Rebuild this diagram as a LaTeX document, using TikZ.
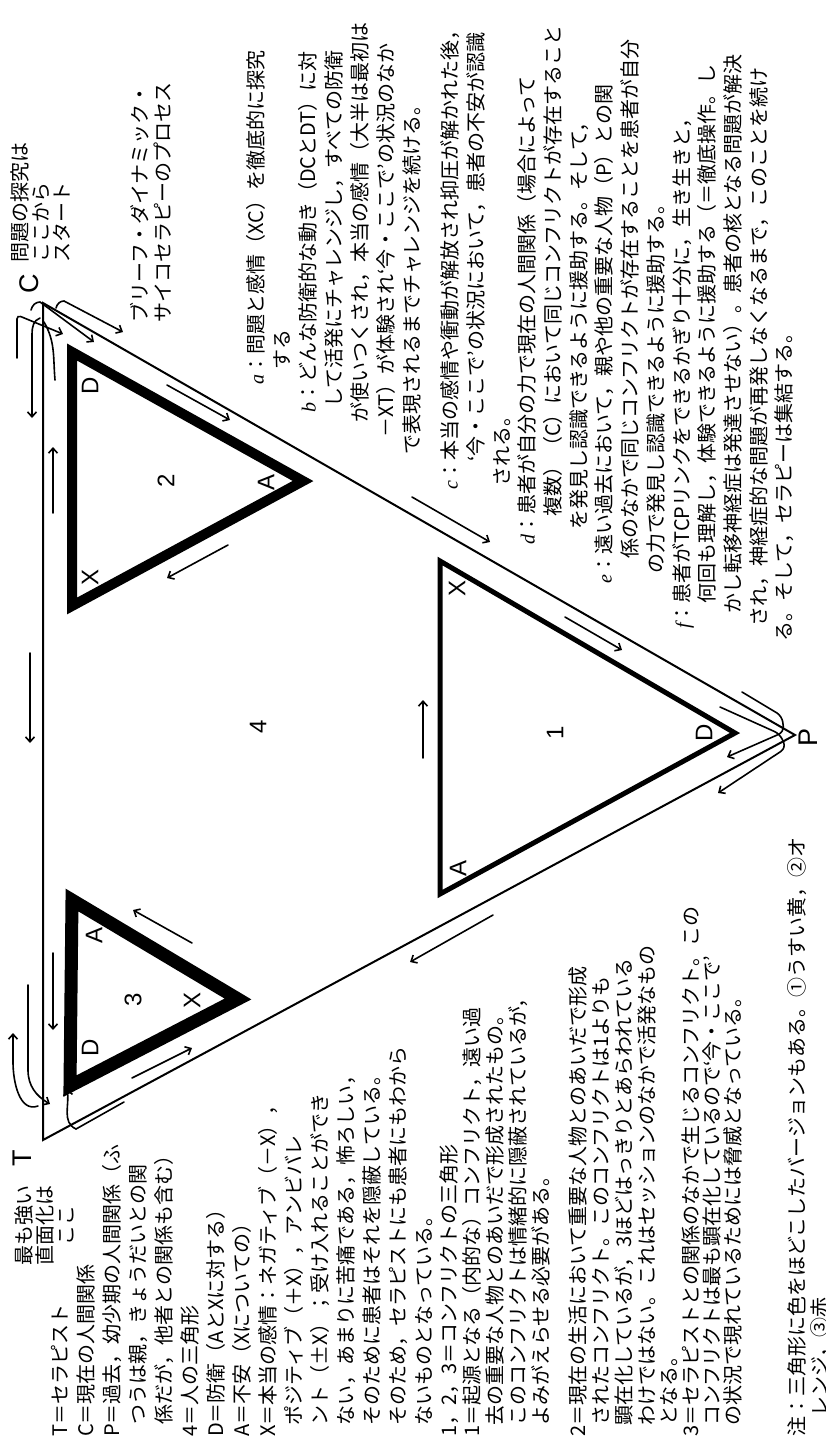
\documentclass[tikz,border=0pt]{standalone}
\usepackage{fontspec}
\newfontfamily\jp{Noto Sans CJK JP}
\newfontfamily\lsans{Liberation Sans}
\newfontfamily\itf{Liberation Serif}
\usetikzlibrary{arrows.meta}
\newcommand\jl[4]{\node[tl] (#1) at (#2,#3) {#4};}
\newcommand\lab[1]{{\itf\itshape #1}}
\begin{document}
\begin{tikzpicture}[x=1pt,y=-1pt,
  tl/.style={rotate=90,anchor=west,inner sep=0pt,font=\jp\fontsize{20}{24}\selectfont,text height=17.6pt,text depth=2.4pt},
  tc/.style={tl,anchor=center},
  tri/.style={rotate=90,inner sep=0pt,font=\lsans\fontsize{24}{24}\selectfont},
  big/.style={rotate=90,inner sep=0pt,font=\lsans\fontsize{27}{27}\selectfont},
  arr/.style={line width=1.6pt,line cap=round,-{Straight Barb[length=5pt,width=9pt]}},
  hand/.style={line width=1.6pt,line cap=round},
  outer/.style={line width=2pt,line join=miter},
  thick/.style={line join=miter}]
\fill[white] (0,0) rectangle (826,1444);
\useasboundingbox (0,0) rectangle (826,1444);

% outer triangle
\coordinate (T) at (43,1140);
\coordinate (C) at (43,303);
\coordinate (P) at (795,735);
\draw[outer] (T) -- (C) -- (P) -- cycle;

% triangle 2 (near C)
\coordinate (D2) at (72,352);
\coordinate (X2) at (72,606);
\coordinate (A2) at (303,481);
\draw[thick,line width=10pt] (D2) -- (X2) -- (A2) -- cycle;
% triangle 3 (near T)
\coordinate (A3) at (72,900);
\coordinate (D3) at (70,1086);
\coordinate (X3) at (238,999);
\draw[thick,line width=13pt] (A3) -- (D3) -- (X3) -- cycle;
% triangle 1 (near P)
\coordinate (X1) at (440,561);
\coordinate (A1) at (440,894);
\coordinate (D1) at (735,733);
\draw[thick,line width=5pt] (X1) -- (A1) -- (D1) -- cycle;

% triangle labels
\node[tri] (lD2) at (90,386) {D};
\node[tri] (lX2) at (90,577) {X};
\node[tri] (lA2) at (266,482) {A};
\node[tri] (n2) at (166,481) {2};
\node[tri] (lA3) at (94,935) {A};
\node[tri] (lD3) at (90,1048) {D};
\node[tri] (lX3) at (192,1000) {X};
\node[tri] (n3) at (133,1000) {3};
\node[tri] (lX1) at (457,588) {X};
\node[tri] (lA1) at (458,868) {A};
\node[tri] (lD1) at (704,733) {D};
\node[tri] (n1) at (555,733) {1};
\node[tri] (n4) at (258,727) {4};
\node[big] (lT) at (22,1158) {T};
\node[big] (lC) at (29,284) {C};
\node[big] (lP) at (808,737) {P};

% arrows near C
\draw[arr,rounded corners=4pt] (17,358) -- (17,315) -- (63,334);
\draw[arr] (31,310) to[out=75,in=180] (40,302) -- (94,342);
\draw[arr] (56,308) to[out=75,in=180] (64,301) -- (123,332);
\draw[arr] (40,318) to[out=200,in=90] (32,334) -- (32,418);
\draw[hand] (44,322) to[out=-60,in=95] (55,380);
\draw[arr] (53,513) -- (53,447);
% along T-C side
\draw[arr] (30,653) -- (30,743);
% near T
\draw[arr] (53,953) -- (53,1030);
\draw[arr] (38,1106) to[out=200,in=-90] (13,1062) -- (13,1033);
\draw[arr] (28,985) -- (28,1070) to[out=-90,in=150] (50,1104);
\draw[arr] (124,1102) -- (76,1129) to[out=155,in=-80] (67,1089);
\draw[arr] (132,1078) -- (192,1048);
% along triangles and sides
\draw[arr] (192,943) -- (133,910);
\draw[arr] (228,545) -- (167,578);
\draw[arr] (167,385) -- (230,420);
\draw[arr] (412,497) -- (490,542);
\draw[arr] (565,617) -- (622,650);
\draw[arr] (423,758) -- (423,700);
\draw[arr] (493,915) -- (410,962);
% near P
\draw[arr,rounded corners=6pt] (742,692) -- (782,716) -- (784,732) -- (727,757);
\draw[arr,rounded corners=6pt] (720,707) -- (780,734) -- (786,748) -- (718,793);

% labels near corners
\jl{q1}{20}{263}{問題の探究は}
\jl{q2}{41}{263}{ここから}
\jl{q3}{62}{263}{スタート}
\node[tc] (m1) at (24,1225) {最も強い};
\node[tc] (m2) at (45,1225) {直面化は};
\node[tc] (m3) at (66,1225) {ここ};

% title and process text
\jl{h1}{140}{323}{ブリーフ・ダイナミック・}
\jl{h2}{163}{323}{サイコセラピーのプロセス}
\jl{pa1}{256}{385}{\lab{a}：問題と感情（XC）を徹底的に探究}
\jl{pa2}{282}{370}{する}
\jl{pb1}{308}{413}{\lab{b}：どんな防衛的な動き（DCとDT）に対}
\jl{pb2}{334}{408}{して活発にチャレンジし，すべての防衛}
\jl{pb3}{360}{423}{が使いつくされ，本当の感情（大半は最初は}
\jl{pb4}{386}{438}{－XT）が体験され‘今・ここで’の状況のなか}
\jl{pb5}{412}{455}{で表現されるまでチャレンジを続ける。}
\jl{pc1}{450}{490}{\lab{c}：本当の感情や衝動が解放され抑圧が解かれた後，}
\jl{pc2}{476}{462}{‘今・ここで’の状況において，患者の不安が認識}
\jl{pc3}{502}{487}{される。}
\jl{pd1}{527}{545}{\lab{d}：患者が自分の力で現在の人間関係（場合によって}
\jl{pd2}{553}{517}{複数）（C）において同じコンフリクトが存在すること}
\jl{pd3}{579}{530}{を発見し認識できるように援助する。そして，}
\jl{pe1}{604}{584}{\lab{e}：遠い過去において，親や他の重要な人物（P）との関}
\jl{pe2}{630}{559}{係のなかで同じコンフリクトが存在することを患者が自分}
\jl{pe3}{656}{574}{の力で発見し認識できるように援助する。}
\jl{pf1}{682}{629}{\lab{f}：患者がTCPリンクをできるかぎり十分に，生き生きと，}
\jl{pf2}{707}{604}{何回も理解し，体験できるように援助する（＝徹底操作。し}
\jl{pf3}{733}{614}{かし転移神経症は発達させない）。患者の核となる問題が解決}
\jl{pf4}{759}{627}{され，神経症的な問題が再発しなくなるまで，このことを続け}
\jl{pf5}{784}{642}{る。そして，セラピーは集結する。}

% legend
\jl{b1}{60}{1437}{T＝セラピスト}
\jl{b2}{86}{1437}{C＝現在の人間関係}
\jl{b3}{112}{1437}{P＝過去，幼少期の人間関係（ふ}
\jl{b4}{138}{1437}{\phantom{P}つうは親，きょうだいとの関}
\jl{b5}{164}{1437}{\phantom{P}係だが，他者との関係も含む）}
\jl{b6}{190}{1437}{4＝人の三角形}
\jl{b7}{216}{1437}{D＝防衛（AとXに対する）}
\jl{b8}{242}{1437}{A＝不安（Xについての）}
\jl{b9}{268}{1437}{X＝本当の感情：ネガティブ（－X），}
\jl{b10}{294}{1437}{\phantom{X}ポジティブ（＋X），アンビバレ}
\jl{b11}{320}{1437}{\phantom{X}ント（±X）；受け入れることができ}
\jl{b12}{346}{1437}{\phantom{X}ない，あまりに苦痛である，怖ろしい，}
\jl{b13}{372}{1437}{\phantom{X}そのために患者はそれを隠蔽している。}
\jl{b14}{398}{1437}{\phantom{X}そのため，セラピストにも患者にもわから}
\jl{b15}{424}{1437}{\phantom{X}ないものとなっている。}
\jl{b16}{449}{1437}{1，2，3＝コンフリクトの三角形}
\jl{b17}{472}{1437}{1＝起源となる（内的な）コンフリクト，遠い過}
\jl{b18}{495}{1437}{\phantom{1}去の重要な人物とのあいだで形成されたもの。}
\jl{b19}{518}{1437}{\phantom{1}このコンフリクトは情緒的に隠蔽されているが，}
\jl{b20}{541}{1437}{\phantom{1}よみがえらせる必要がある。}
\jl{b21}{578}{1437}{2＝現在の生活において重要な人物とのあいだで形成}
\jl{b22}{601}{1437}{\phantom{2}されたコンフリクト。このコンフリクトは1よりも}
\jl{b23}{624}{1437}{\phantom{2}顕在化しているが，3ほどはっきりとあらわれている}
\jl{b24}{647}{1437}{\phantom{2}わけではない。これはセッションのなかで活発なもの}
\jl{b25}{669}{1437}{\phantom{2}となる。}
\jl{b26}{691}{1437}{3＝セラピストとの関係のなかで生じるコンフリクト。この}
\jl{b27}{712}{1437}{\phantom{3}コンフリクトは最も顕在化しているので‘今・ここで’}
\jl{b28}{733}{1437}{\phantom{3}の状況で現れているためには脅威となっている。}
\jl{b29}{797}{1437}{注：三角形に色をほどこしたバージョンもある。①うすい黄，②オ}
\jl{b30}{820}{1437}{\phantom{注}レンジ，③赤}
\end{tikzpicture}
\end{document}
